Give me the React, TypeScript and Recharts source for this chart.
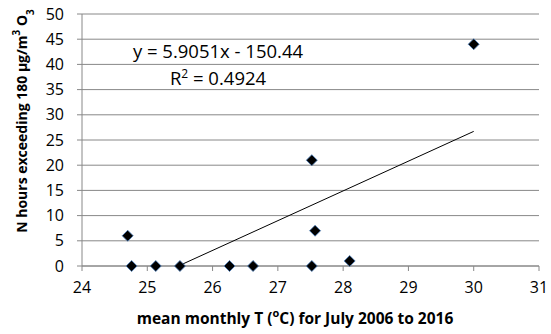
import { ScatterChart, Scatter, XAxis, YAxis, CartesianGrid, Label } from "recharts";

const tempC = [24.7, 24.76, 25.13, 25.5, 26.26, 26.62, 27.52, 27.52, 27.57, 28.1, 30.0];
const hoursOver = [6, 0, 0, 0, 0, 0, 0, 21, 7, 1, 44];

// trendline ends, as drawn
const trendX = [25.5, 30];
const trendY = [0.14, 26.71];

const xTicks = [24, 25, 26, 27, 28, 29, 30, 31];
const yTicks = [0, 5, 10, 15, 20, 25, 30, 35, 40, 45, 50];

const points = tempC.map((x, i) => ({ x, y: hoursOver[i] }));
const trend = trendX.map((x, i) => ({ x, y: trendY[i] }));

const font = "'Open Sans', sans-serif";

const Diamond = (props: any) => {
  const { cx, cy } = props;
  const r = 5.5;
  return (
    <polygon
      points={`${cx},${cy - r} ${cx + r},${cy} ${cx},${cy + r} ${cx - r},${cy}`}
      fill="#000"
      stroke="#4a7ebb"
      strokeWidth={0.8}
    />
  );
};

const YTitle = () => (
  <text
    transform="translate(27,121) rotate(-90)"
    textAnchor="middle"
    fontFamily={font}
    fontWeight="bold"
    fontSize={14}
    fill="#000"
  >
    N hours exceeding 180 µg/m
    <tspan baselineShift="super" fontSize={10}>3</tspan>
    {" O"}
    <tspan baselineShift="sub" fontSize={10}>3</tspan>
  </text>
);

const XTitle = () => (
  <text x={295} y={324} textAnchor="middle" fontFamily={font} fontWeight="bold" fontSize={15.5} fill="#000">
    mean monthly T (
    <tspan baselineShift="super" fontSize={11}>o</tspan>
    C) for July 2006 to 2016
  </text>
);

export default function App() {
  return (
    <div style={{ position: "absolute", left: 0, top: 0, width: 551, height: 334, background: "#fff" }}>
      <ScatterChart width={551} height={334} margin={{ top: 14, right: 12, left: 0, bottom: 0 }}>
        <CartesianGrid vertical={false} stroke="#888" />
        <XAxis
          type="number"
          dataKey="x"
          domain={[24, 31]}
          ticks={xTicks}
          stroke="#888"
          tickSize={5}
          height={68}
          tick={{ fill: "#000", fontSize: 16, fontFamily: font }}
          tickMargin={11}
        >
          <Label content={<XTitle />} />
        </XAxis>
        <YAxis
          type="number"
          dataKey="y"
          domain={[0, 50]}
          ticks={yTicks}
          stroke="#888"
          tickSize={5}
          width={82}
          tick={{ fill: "#000", fontSize: 16, fontFamily: font }}
          tickMargin={13}
        >
          <Label content={<YTitle />} />
        </YAxis>
        <Scatter
          data={trend}
          line={{ stroke: "#000", strokeWidth: 1 }}
          shape={() => null}
          isAnimationActive={false}
        />
        <Scatter data={points} shape={<Diamond />} isAnimationActive={false} />
      </ScatterChart>
      <div
        style={{
          position: "absolute",
          left: 118,
          top: 37,
          width: 200,
          textAlign: "center",
          fontFamily: font,
          fontSize: 18.5,
          lineHeight: "27px",
          color: "#000",
        }}
      >
        <div>y = 5.9051x - 150.44</div>
        <div>
          R<sup style={{ fontSize: 12, lineHeight: 0 }}>2</sup> = 0.4924
        </div>
      </div>
    </div>
  );
}
